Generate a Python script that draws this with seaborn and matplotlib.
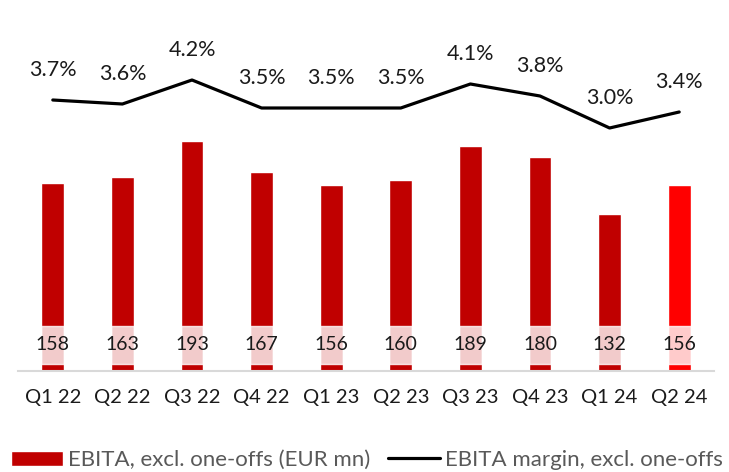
import numpy as np
import matplotlib.pyplot as plt
import seaborn as sns
from matplotlib.patches import Patch
from matplotlib.lines import Line2D

quarters = ["Q1 22", "Q2 22", "Q3 22", "Q4 22", "Q1 23", "Q2 23", "Q3 23", "Q4 23", "Q1 24", "Q2 24"]
ebita = [158, 163, 193, 167, 156, 160, 189, 180, 132, 156]
margin = [3.7, 3.6, 4.2, 3.5, 3.5, 3.5, 4.1, 3.8, 3.0, 3.4]
bar_colors = ["#C00000"] * 9 + ["#FF0000"]

sns.set_theme(style="white")
plt.rcParams["font.family"] = ["Lato", "DejaVu Sans"]

fig = plt.figure(figsize=(7.29, 4.72), dpi=100)
ax = fig.add_axes([18 / 729, 101 / 472, 696 / 729, 361 / 472])

sns.barplot(x=quarters, y=ebita, hue=quarters, palette=bar_colors, legend=False,
            width=0.33, ax=ax, saturation=1)
ax.set_ylim(0, 303)
ax.set_xlim(-0.5, 9.5)

# light box behind value labels
xs = np.arange(len(quarters))
ax.bar(xs, 32, bottom=6, width=0.33, color="white", alpha=0.8, zorder=3)
for x, v in zip(xs, ebita):
    ax.text(x, 22, str(v), ha="center", va="center", fontsize=14, color="#1a1a1a", zorder=4)

for s in ["top", "left", "right"]:
    ax.spines[s].set_visible(False)
ax.spines["bottom"].set_color("#D9D9D9")
ax.spines["bottom"].set_linewidth(1.5)
ax.set_yticks([])
ax.set_ylabel("")
ax.tick_params(axis="x", length=0, pad=13, labelsize=14.5, labelcolor="#1a1a1a")

ax2 = ax.twinx()
sns.lineplot(x=xs, y=margin, color="black", linewidth=2.3, ax=ax2)
ax2.set_ylim(-3.075, 5.95)
ax2.set_yticks([])
ax2.set_ylabel("")
for s in ["top", "left", "right", "bottom"]:
    ax2.spines[s].set_visible(False)
for x, m in zip(xs, margin):
    ax2.annotate(f"{m:.1f}%", (x, m), xytext=(0, 30), textcoords="offset pixels",
                 ha="center", va="center", fontsize=15.5, color="#1a1a1a")

handles = [Patch(facecolor="#C00000", label="EBITA, excl. one-offs (EUR mn)"),
           Line2D([0], [0], color="black", linewidth=2.3, label="EBITA margin, excl. one-offs")]
fig.legend(handles=handles, loc="center", bbox_to_anchor=(367 / 729, 1 - 460 / 472), ncol=2,
           frameon=False, fontsize=16, labelcolor="#595959", handlelength=2.35,
           handleheight=0.65, handletextpad=0.22, columnspacing=0.77, borderpad=0)

fig.savefig("out.png", dpi=100)
